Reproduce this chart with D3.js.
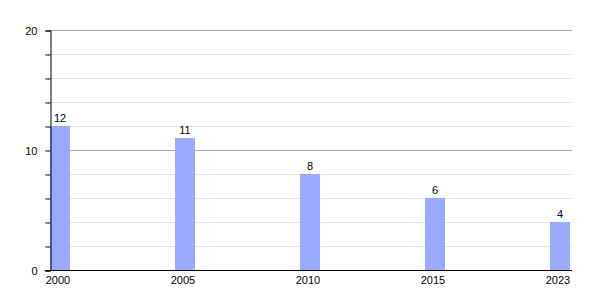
<!DOCTYPE html>
<html>
<head>
<meta charset="utf-8">
<script src="https://cdn.jsdelivr.net/npm/d3@7"></script>
<style>
    body { margin: 0; background: #fff; }
    text { font-family: "Liberation Sans", Arial, sans-serif; }
</style>
</head>
<body>
<div id="chart"></div>
<script>
const years = ["2000", "2005", "2010", "2015", "2023"];
const counts = [12, 11, 8, 6, 4];
const majorTicks = [0, 10, 20];
const minorTicks = [2, 4, 6, 8, 12, 14, 16, 18];

const width = 600;
const height = 300;
const plotLeft = 50, plotRight = 572, plotTop = 30, plotBottom = 270;

const svg = d3.select("#chart")
    .append("svg")
    .attr("width", width)
    .attr("height", height);

const xScale = d3.scalePoint()
    .domain(years)
    .range([60, 560]);

const yScale = d3.scaleLinear()
    .domain([0, 20])
    .range([plotBottom, plotTop]);

// minor gridlines
svg.selectAll(".minor")
    .data(minorTicks)
    .enter()
    .append("line")
    .attr("x1", plotLeft)
    .attr("x2", plotRight)
    .attr("y1", d => yScale(d) + 0.5)
    .attr("y2", d => yScale(d) + 0.5)
    .attr("stroke", "#e2e2e2");

// major gridlines
svg.selectAll(".major")
    .data(majorTicks.filter(d => d > 0))
    .enter()
    .append("line")
    .attr("x1", plotLeft)
    .attr("x2", plotRight)
    .attr("y1", d => yScale(d) + 0.5)
    .attr("y2", d => yScale(d) + 0.5)
    .attr("stroke", "#aaaaaa");

// bars
const barWidth = 20;
svg.selectAll(".bar")
    .data(counts)
    .enter()
    .append("rect")
    .attr("x", (d, i) => xScale(years[i]) - barWidth / 2)
    .attr("y", d => yScale(d))
    .attr("width", barWidth)
    .attr("height", d => yScale(0) - yScale(d))
    .attr("fill", "#99aaff");

// value labels
svg.selectAll(".val")
    .data(counts)
    .enter()
    .append("text")
    .attr("x", (d, i) => xScale(years[i]))
    .attr("y", d => yScale(d) - 4)
    .attr("text-anchor", "middle")
    .attr("font-size", "11px")
    .attr("fill", "#000")
    .text(d => d);

// left axis
const yAxis = svg.append("g")
    .attr("transform", `translate(${plotLeft + 0.5}, 0.5)`)
    .call(d3.axisLeft(yScale).tickValues(majorTicks).tickSize(5).tickFormat(d3.format("d")));
yAxis.select(".domain").attr("stroke", "#000");
yAxis.selectAll(".tick line").attr("stroke", "#000");
yAxis.selectAll(".tick text")
    .attr("x", -13)
    .attr("font-size", "11px")
    .attr("font-family", "Liberation Sans, Arial, sans-serif")
    .attr("fill", "#000");

svg.append("g")
    .attr("transform", `translate(${plotLeft + 0.5}, 0.5)`)
    .call(d3.axisLeft(yScale).tickValues(minorTicks).tickSize(5).tickFormat(""))
    .call(g => g.select(".domain").remove())
    .selectAll(".tick line").attr("stroke", "#000");

// bottom axis
svg.append("line")
    .attr("x1", plotLeft - 5)
    .attr("x2", plotRight)
    .attr("y1", plotBottom + 0.5)
    .attr("y2", plotBottom + 0.5)
    .attr("stroke", "#000");

svg.selectAll(".xlab")
    .data(years)
    .enter()
    .append("text")
    .attr("x", d => xScale(d) - 2)
    .attr("y", plotBottom + 14)
    .attr("text-anchor", "middle")
    .attr("font-size", "11px")
    .attr("fill", "#000")
    .text(d => d);
</script>
</body>
</html>
